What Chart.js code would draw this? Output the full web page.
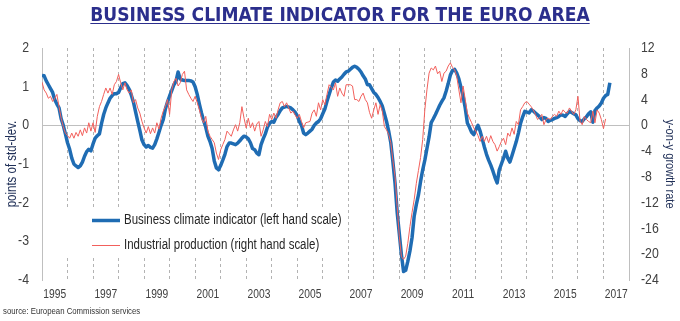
<!DOCTYPE html>
<html><head><meta charset="utf-8">
<script src="https://cdn.jsdelivr.net/npm/chart.js@4"></script>
<style>
html,body{margin:0;padding:0;background:#fff;}
#wrap{position:relative;width:680px;height:321px;overflow:hidden;background:#fff;}
#title{position:absolute;left:0;top:3px;width:680px;text-align:center;font-family:"DejaVu Sans Condensed","DejaVu Sans",sans-serif;font-stretch:condensed;font-weight:bold;font-size:19px;color:#2B2E8C;text-decoration:underline;text-underline-offset:2px;}
#src{position:absolute;left:3px;top:305px;font-family:"Liberation Sans",Arial,sans-serif;font-size:9.5px;color:#333;transform:scaleX(0.82);transform-origin:0 0;white-space:nowrap;}
canvas{position:absolute;left:0;top:0;}
</style></head><body>
<div id="wrap"><canvas id="c" width="680" height="321"></canvas>
<div id="title">BUSINESS CLIMATE INDICATOR FOR THE EURO AREA</div>
<div id="src">source: European Commission services</div></div>
<script>
// monthly series starting January 1995
const startYear = 1995;
const bciLabel = 'Business climate indicator (left hand scale)';
const ipLabel = 'Industrial production (right hand scale)';
const bci = [
 1.29,1.28,1.15,1.05,0.95,0.85,0.66,0.55,0.45,0.17,0.0,-0.22,
 -0.45,-0.62,-0.85,-1.0,-1.05,-1.09,-1.05,-0.95,-0.8,-0.68,-0.62,-0.66,
 -0.48,-0.33,-0.27,-0.22,0.05,0.28,0.45,0.58,0.7,0.77,0.82,0.82,
 0.85,0.97,1.08,1.1,1.03,0.93,0.78,0.6,0.35,0.1,-0.13,-0.38,
 -0.5,-0.56,-0.52,-0.57,-0.59,-0.5,-0.35,-0.18,0.0,0.15,0.42,0.6,
 0.76,0.9,1.05,1.14,1.38,1.2,1.17,1.16,1.16,1.16,1.15,1.12,
 1.0,0.8,0.55,0.32,0.12,-0.05,-0.28,-0.42,-0.6,-0.92,-1.1,-1.15,
 -1.04,-0.9,-0.75,-0.55,-0.46,-0.46,-0.48,-0.5,-0.46,-0.4,-0.33,-0.28,
 -0.3,-0.35,-0.45,-0.6,-0.63,-0.72,-0.76,-0.5,-0.35,-0.22,-0.05,0.05,
 0.1,0.08,0.2,0.28,0.38,0.45,0.47,0.49,0.47,0.45,0.4,0.34,
 0.25,0.1,0.0,-0.2,-0.24,-0.2,-0.15,-0.1,0.0,0.06,0.1,0.17,
 0.3,0.42,0.62,0.8,0.97,1.12,1.17,1.14,1.2,1.25,1.32,1.38,
 1.4,1.45,1.5,1.53,1.5,1.45,1.38,1.28,1.2,1.05,1.05,0.95,
 0.85,0.8,0.72,0.62,0.5,0.3,0.1,-0.15,-0.45,-0.95,-1.5,-2.25,
 -2.8,-3.35,-3.78,-3.75,-3.52,-3.25,-2.9,-2.35,-2.05,-1.8,-1.45,-1.15,
 -0.9,-0.6,-0.3,0.07,0.17,0.28,0.4,0.52,0.62,0.71,0.88,1.08,
 1.3,1.42,1.45,1.35,1.2,0.98,0.75,0.45,0.06,-0.05,-0.18,-0.24,
 -0.11,0.0,-0.15,-0.35,-0.56,-0.75,-0.9,-1.03,-1.18,-1.35,-1.49,-1.15,
 -1.0,-0.85,-0.67,-0.85,-0.95,-0.78,-0.6,-0.42,-0.2,0.05,0.22,0.36,
 0.34,0.32,0.4,0.37,0.32,0.27,0.22,0.15,0.2,0.18,0.1,0.13,
 0.15,0.18,0.2,0.23,0.27,0.26,0.23,0.3,0.36,0.33,0.3,0.27,
 0.17,0.12,0.1,0.17,0.22,0.3,0.35,0.08,0.38,0.45,0.5,0.58,
 0.7,0.77,0.8,1.1
];
const ip = [
 6.7,5.5,5.0,4.2,4.5,3.7,4.2,4.8,2.9,1.1,-0.2,-1.2,
 -1.6,-2.0,-1.2,-2.0,-1.1,-1.7,-0.7,-1.6,-0.4,-1.2,0.4,-0.9,
 0.4,-1.1,1.4,2.9,3.7,4.8,5.8,5.0,5.8,4.8,6.3,6.8,
 7.9,6.6,5.5,6.6,5.5,5.0,5.5,3.5,4.0,2.7,1.9,0.6,
 -0.4,-1.2,-0.2,-1.3,-0.4,-1.2,0.4,-0.6,1.1,2.2,2.9,4.0,
 1.7,5.5,6.8,7.3,6.1,6.6,7.9,8.4,5.5,4.8,4.2,3.7,
 4.5,3.5,2.4,1.1,0.4,1.4,-0.9,-1.7,-2.2,-2.7,-4.3,-5.3,
 -3.8,-3.0,-2.2,-0.9,-1.3,-1.7,-0.7,0.1,-0.9,0.4,2.9,1.1,
 -0.4,1.1,-0.4,0.4,-0.9,0.2,0.6,-1.7,-0.7,0.6,-0.2,1.7,
 0.9,1.9,1.1,2.4,3.5,3.7,2.9,3.5,2.7,1.9,2.2,1.6,
 1.1,1.7,0.6,-0.4,0.4,0.5,0.6,1.9,2.4,1.4,3.5,2.4,
 4.0,3.2,4.8,6.3,5.9,5.5,6.6,4.5,5.8,5.0,4.5,6.3,
 6.3,6.3,6.1,4.0,4.0,3.7,4.5,5.0,4.0,3.5,2.0,1.1,
 2.4,3.5,1.7,3.2,2.2,-0.2,-0.7,-1.4,-2.7,-5.5,-8.0,-12.6,
 -17.2,-20.4,-20.8,-20.3,-18.3,-15.7,-13.5,-11.5,-9.0,-7.0,-5.0,-2.2,
 2.4,5.5,8.1,8.9,8.6,9.2,8.0,8.4,6.8,8.1,8.4,9.2,
 9.7,9.0,8.6,7.6,5.5,3.5,6.1,4.0,1.9,1.1,0.4,-0.4,
 -0.9,-1.6,-2.5,-1.7,-2.5,-1.7,-2.7,-1.6,-2.5,-3.0,-4.0,-3.3,
 -2.5,-2.0,-3.0,-1.2,-1.7,-0.4,-1.4,0.6,0.1,2.4,2.9,3.5,
 3.7,3.3,2.9,2.4,1.7,0.9,1.2,1.7,0.1,0.9,1.1,0.9,
 1.4,1.7,1.4,2.2,1.7,2.4,2.0,1.9,2.7,2.2,1.7,2.4,
 4.5,0.6,0.1,1.4,0.9,0.6,0.4,2.2,0.4,2.4,1.9,0.9,
 -0.5,1.0
];
const yearLabels = ['1995','1997','1999','2001','2003','2005','2007','2009','2011','2013','2015','2017'];
const leftTicks = [-4,-3,-2,-1,0,1,2];
const rightTicks = [-24,-20,-16,-12,-8,-4,0,4,8,12];

// narrow rendering of the sans text (emulates a condensed face)
const NARROW = '"Liberation Sans", Arial, sans-serif';
const NARROW_K = 0.82;
(function(){
  const P = CanvasRenderingContext2D.prototype;
  const origFill = P.fillText;
  P.fillText = function(t, x, y, mw){
    if (/Liberation Sans/.test(this.font)) {
      this.save();
      this.translate(x, y);
      this.scale(NARROW_K, 1);
      if (mw !== undefined) origFill.call(this, t, 0, 0, mw / NARROW_K);
      else origFill.call(this, t, 0, 0);
      this.restore();
    } else if (mw !== undefined) origFill.call(this, t, x, y, mw);
    else origFill.call(this, t, x, y);
  };
})();

const toPoints = arr => arr.map((v,i)=>({x: startYear + i/12, y: v}));

const boxLegend = {
  id:'boxLegend',
  afterDraw(chart){
    const ctx = chart.ctx;
    const ds = chart.data.datasets;
    const items = [ds[1], ds[0]]; // BCI first, IP second
    ctx.save();
    ctx.fillStyle = '#ffffff';
    ctx.fillRect(56, 207, 290, 49);
    items.forEach((d,k)=>{
      const y = 220.5 + k*25;
      ctx.strokeStyle = d.borderColor;
      ctx.lineWidth = d.borderWidth;
      ctx.lineCap = 'butt';
      ctx.beginPath(); ctx.moveTo(92, y); ctx.lineTo(120, y); ctx.stroke();
      ctx.fillStyle = '#262626';
      ctx.font = '14px ' + NARROW;
      ctx.textBaseline = 'middle';
      ctx.textAlign = 'left';
      ctx.fillText(d.label, 124, y);
    });
    ctx.restore();
  }
};

new Chart(document.getElementById('c'), {
  type:'line',
  data:{ datasets:[
    { label: ipLabel, data: toPoints(ip), yAxisID:'y2', borderColor:'#F2605C', borderWidth:1, pointRadius:0, tension:0, order:0 },
    { label: bciLabel, data: toPoints(bci), yAxisID:'y', borderColor:'#1F6CB3', borderWidth:3.5, pointRadius:0, tension:0, order:1, borderJoinStyle:'round' }
  ]},
  options:{
    responsive:false, animation:false, devicePixelRatio:1,
    layout:{ padding:{ top:48, bottom:13, left:0, right:0 } },
    plugins:{ legend:{display:false}, tooltip:{enabled:false} },
    scales:{
      x:{ type:'linear', min:startYear, max:2018,
        afterBuildTicks: s => { const t=[]; for(let y=startYear;y<=2018;y++){ t.push({value:y}); if(y<2018) t.push({value:y+0.5}); } s.ticks=t; },
        grid:{ color: c => { const v = c.tick ? c.tick.value : null; return (v!==null && Number.isInteger(v) && v>startYear && v<2018) ? '#B3B3B3' : 'rgba(0,0,0,0)'; }, drawTicks:false, lineWidth:1 },
        border:{ display:false, dash:[3,3] },
        ticks:{ autoSkip:false, maxRotation:0, padding:7, color:'#404040', font:{family:NARROW, size:12.5},
          callback: v => { const y=Math.floor(v); const s=String(y); return (v%1!==0 && yearLabels.includes(s)) ? s : ''; } },
        afterFit: s => { s.height = 28; }
      },
      y:{ position:'left', min:-4, max:2,
        afterBuildTicks: s => { s.ticks = leftTicks.map(v=>({value:v})); },
        grid:{ color: c => (c.tick && c.tick.value===0) ? '#BFBFBF' : 'rgba(0,0,0,0)', drawTicks:false },
        border:{ display:true, color:'#BFBFBF', width:1 },
        ticks:{ padding:13, color:'#404040', font:{family:NARROW, size:15} },
        title:{ display:true, text:'points of std-dev.', color:'#1F2F57', font:{family:NARROW, size:14}, padding:{top:4,bottom:0} },
        afterFit: s => { s.width = 42; }
      },
      y2:{ position:'right', min:-24, max:12,
        afterBuildTicks: s => { s.ticks = rightTicks.map(v=>({value:v})); },
        grid:{ drawOnChartArea:false, drawTicks:false },
        border:{ display:true, color:'#BFBFBF', width:1 },
        ticks:{ padding:12, color:'#404040', font:{family:NARROW, size:15} },
        title:{ display:true, text:'y-on-y growth rate', color:'#1F2F57', font:{family:NARROW, size:13.5}, padding:{top:2,bottom:0} },
        afterFit: s => { s.width = 51; }
      }
    }
  },
  plugins:[boxLegend]
});
</script>
</body></html>
